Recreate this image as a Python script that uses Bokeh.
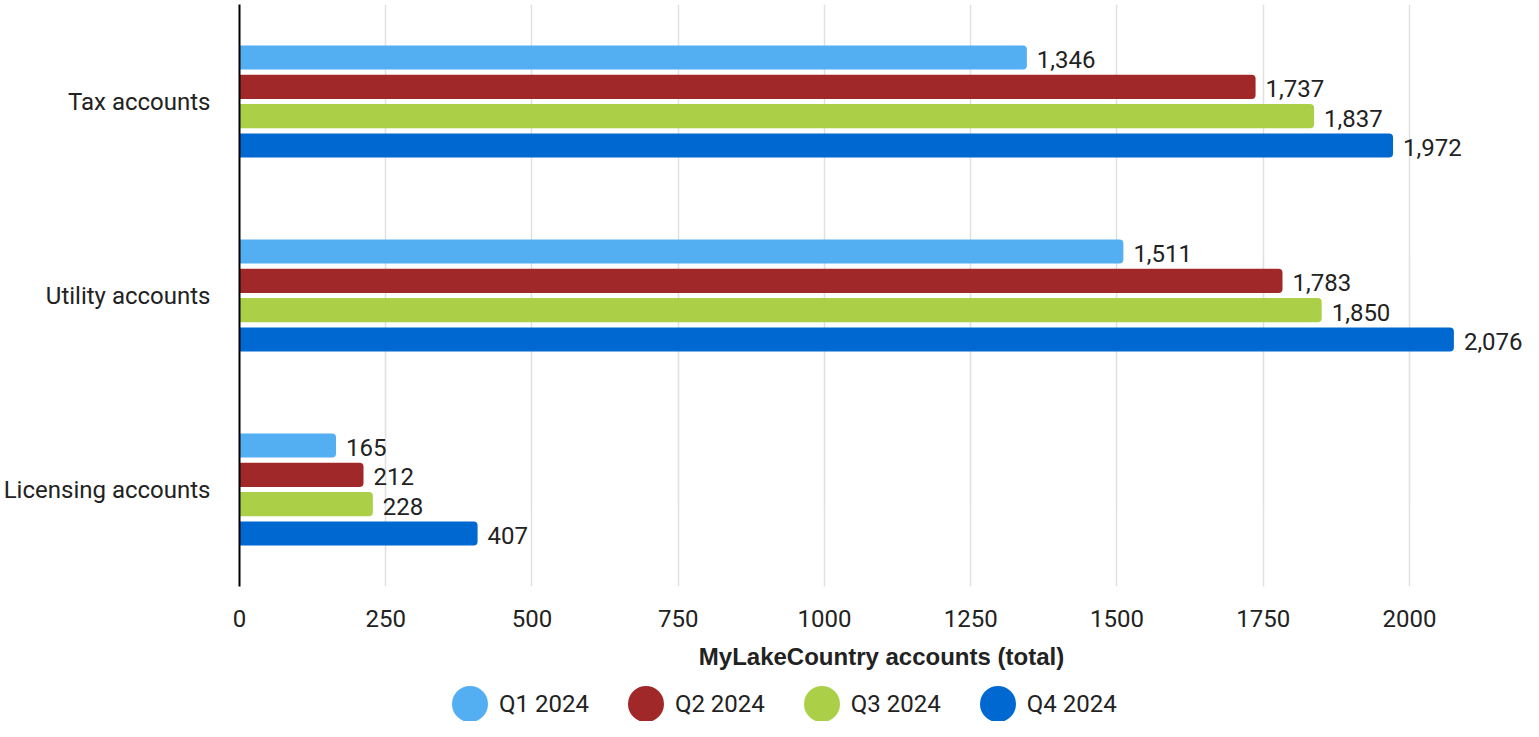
from bokeh.plotting import figure
from bokeh.layouts import column
from bokeh.models import ColumnDataSource, FactorRange, Range1d, FixedTicker, Legend, LegendItem
from bokeh.transform import dodge
from bokeh.core.properties import value
from bokeh.embed import file_html
from bokeh.resources import INLINE

categories = ["Tax accounts", "Utility accounts", "Licensing accounts"]
series = ["Q1 2024", "Q2 2024", "Q3 2024", "Q4 2024"]
q1 = [1346, 1511, 165]
q2 = [1737, 1783, 212]
q3 = [1837, 1850, 228]
q4 = [1972, 2076, 407]
colors = ["#53aef2", "#a12828", "#abd048", "#0069d1"]
x_ticks = [0, 250, 500, 750, 1000, 1250, 1500, 1750, 2000]
x_title = "MyLakeCountry accounts (total)"

values = [q1, q2, q3, q4]
FONT = "Roboto"
TXT = "#222222"
FS = "24px"

p = figure(width=1523, height=682, output_backend="svg", toolbar_location=None,
           y_range=FactorRange(factors=list(reversed(categories))),
           x_range=Range1d(0, 2195))
p.min_border_left = 239
p.min_border_right = 0
p.min_border_top = 4
p.min_border_bottom = 96
p.outline_line_color = None
p.background_fill_color = "white"
p.border_fill_color = "white"

pitch = 0.151
offsets = [pitch * 1.5, pitch * 0.5, -pitch * 0.5, -pitch * 1.5]
for name, vals, col, off in zip(series, values, colors, offsets):
    src = ColumnDataSource(dict(cat=categories, v=vals,
                                lab=[f"{v:,}" for v in vals]))
    p.hbar(y=dodge("cat", off, range=p.y_range), right="v", left=0, height=0.124,
           source=src, fill_color=col, line_color=None,
           border_radius=(0, 4, 4, 0))
    p.text(x="v", y=dodge("cat", off, range=p.y_range), text="lab", source=src,
           x_offset=10, y_offset=2, text_baseline="middle", text_align="left",
           text_font=value(FONT), text_font_size=FS, text_color=TXT)

# axes
p.xaxis.ticker = FixedTicker(ticks=x_ticks)
p.xaxis.axis_line_color = None
p.xaxis.major_tick_line_color = None
p.xaxis.minor_tick_line_color = None
p.xaxis.major_label_standoff = 17
p.xaxis.major_label_text_font = FONT
p.xaxis.major_label_text_font_size = FS
p.xaxis.major_label_text_color = TXT
p.xaxis.axis_label = x_title
p.xaxis.axis_label_text_font = "Liberation Sans"
p.xaxis.axis_label_text_font_style = "bold"
p.xaxis.axis_label_text_font_size = FS
p.xaxis.axis_label_text_color = TXT
p.xaxis.axis_label_standoff = 13

p.yaxis.axis_line_color = "black"
p.yaxis.axis_line_width = 2
p.yaxis.major_tick_line_color = None
p.yaxis.minor_tick_line_color = None
p.yaxis.major_label_standoff = 23
p.yaxis.major_label_text_font = FONT
p.yaxis.major_label_text_font_size = FS
p.yaxis.major_label_text_color = TXT

p.xgrid.grid_line_color = "#e0e0e0"
p.xgrid.grid_line_width = 1.5
p.ygrid.grid_line_color = None

# legend row (its frame is aligned with the chart frame by the column layout)
lg = figure(width=1523, height=39, output_backend="svg", toolbar_location=None,
            x_range=Range1d(0, 1), y_range=Range1d(0, 1))
lg.min_border_left = 0
lg.min_border_right = 0
lg.min_border_top = 0
lg.min_border_bottom = 0
lg.outline_line_color = None
lg.axis.visible = False
lg.grid.visible = False
lg.background_fill_color = "white"
lg.border_fill_color = "white"

items = []
for name, col in zip(series, colors):
    # legend swatch source: a sub-pixel round ellipse, the legend draws it as a 36px disc
    d = lg.ellipse(x=[0.5], y=[0.5], width=0.01, height=0.01,
                   width_units="screen", height_units="screen",
                   fill_color=col, line_color=None)
    items.append(LegendItem(label=name, renderers=[d]))

legend = Legend(items=items, orientation="horizontal", location=(208, -5),
                glyph_width=45, glyph_height=45, label_standoff=7, spacing=34,
                padding=0, margin=0, border_line_color=None, background_fill_alpha=0,
                label_text_font=FONT, label_text_font_size=FS,
                label_text_color=TXT)
lg.add_layout(legend, "center")

layout = column(p, lg, spacing=0)
open("out.html", "w").write(file_html(layout, INLINE))
